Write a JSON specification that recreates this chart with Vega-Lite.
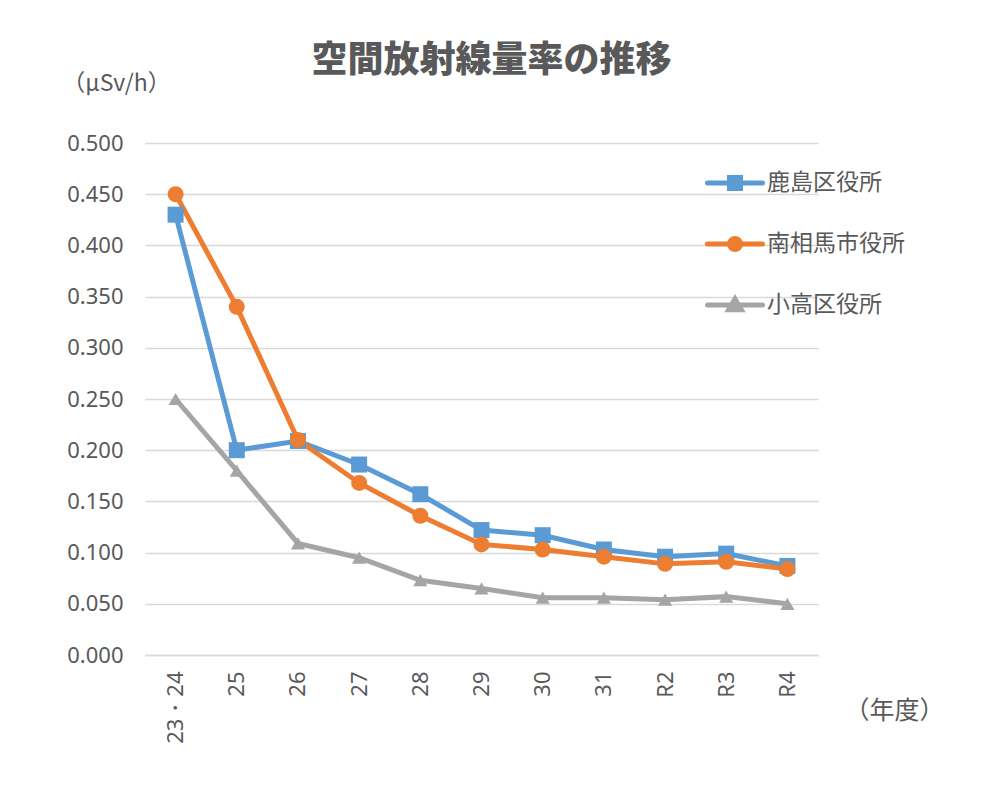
{
  "$schema": "https://vega.github.io/schema/vega-lite/v6.json",
  "autosize": {"type": "none"},
  "width": 673,
  "height": 512,
  "padding": {"left": 145, "top": 143, "right": 172, "bottom": 145},
  "background": "white",
  "config": {
    "font": "Noto Sans CJK JP",
    "view": {"stroke": null}
  },
  "title": {
    "text": "空間放射線量率の推移",
    "fontSize": 36,
    "fontWeight": 900,
    "color": "#595959",
    "anchor": "middle",
    "dx": 10,
    "offset": -8
  },
  "data": {
    "values": [
      {"year": "23・24", "site": "鹿島区役所", "value": 0.430},
      {"year": "25", "site": "鹿島区役所", "value": 0.200},
      {"year": "26", "site": "鹿島区役所", "value": 0.209},
      {"year": "27", "site": "鹿島区役所", "value": 0.186},
      {"year": "28", "site": "鹿島区役所", "value": 0.157},
      {"year": "29", "site": "鹿島区役所", "value": 0.122},
      {"year": "30", "site": "鹿島区役所", "value": 0.117},
      {"year": "31", "site": "鹿島区役所", "value": 0.103},
      {"year": "R2", "site": "鹿島区役所", "value": 0.096},
      {"year": "R3", "site": "鹿島区役所", "value": 0.099},
      {"year": "R4", "site": "鹿島区役所", "value": 0.087},
      {"year": "23・24", "site": "南相馬市役所", "value": 0.450},
      {"year": "25", "site": "南相馬市役所", "value": 0.340},
      {"year": "26", "site": "南相馬市役所", "value": 0.210},
      {"year": "27", "site": "南相馬市役所", "value": 0.168},
      {"year": "28", "site": "南相馬市役所", "value": 0.136},
      {"year": "29", "site": "南相馬市役所", "value": 0.108},
      {"year": "30", "site": "南相馬市役所", "value": 0.103},
      {"year": "31", "site": "南相馬市役所", "value": 0.096},
      {"year": "R2", "site": "南相馬市役所", "value": 0.089},
      {"year": "R3", "site": "南相馬市役所", "value": 0.091},
      {"year": "R4", "site": "南相馬市役所", "value": 0.084},
      {"year": "23・24", "site": "小高区役所", "value": 0.250},
      {"year": "25", "site": "小高区役所", "value": 0.180},
      {"year": "26", "site": "小高区役所", "value": 0.109},
      {"year": "27", "site": "小高区役所", "value": 0.095},
      {"year": "28", "site": "小高区役所", "value": 0.073},
      {"year": "29", "site": "小高区役所", "value": 0.065},
      {"year": "30", "site": "小高区役所", "value": 0.056},
      {"year": "31", "site": "小高区役所", "value": 0.056},
      {"year": "R2", "site": "小高区役所", "value": 0.054},
      {"year": "R3", "site": "小高区役所", "value": 0.057},
      {"year": "R4", "site": "小高区役所", "value": 0.050}
    ]
  },
  "encoding": {
    "x": {
      "field": "year",
      "type": "nominal",
      "sort": ["23・24", "25", "26", "27", "28", "29", "30", "31", "R2", "R3", "R4"],
      "scale": {"type": "point", "padding": 0.5},
      "axis": {
        "title": "（年度）",
        "titleFontSize": 25,
        "titleFontWeight": "normal",
        "titleColor": "#595959",
        "titleAngle": 0,
        "titleAlign": "center",
        "titleBaseline": "middle",
        "titleX": 749,
        "titleY": 55,
        "labelAngle": -90,
        "labelAlign": "right",
        "labelBaseline": "middle",
        "labelFont": "Noto Sans",
        "labelFontSize": 22,
        "labelColor": "#595959",
        "labelPadding": 16,
        "ticks": false,
        "domainColor": "#D9D9D9",
        "domainWidth": 1.5,
        "grid": false
      }
    },
    "y": {
      "field": "value",
      "type": "quantitative",
      "scale": {"domain": [0, 0.5]},
      "axis": {
        "values": [0, 0.05, 0.1, 0.15, 0.2, 0.25, 0.3, 0.35, 0.4, 0.45, 0.5],
        "format": ".3f",
        "title": "（μSv/h）",
        "titleFontSize": 23,
        "titleFontWeight": "normal",
        "titleColor": "#595959",
        "titleAngle": 0,
        "titleAlign": "center",
        "titleBaseline": "middle",
        "titleX": -29,
        "titleY": -60,
        "labelFont": "Noto Sans",
        "labelFontSize": 22,
        "labelColor": "#595959",
        "labelPadding": 22,
        "ticks": false,
        "domain": false,
        "grid": true,
        "gridColor": "#D9D9D9",
        "gridWidth": 1.5
      }
    },
    "color": {
      "field": "site",
      "type": "nominal",
      "scale": {
        "domain": ["鹿島区役所", "南相馬市役所", "小高区役所"],
        "range": ["#5B9BD5", "#ED7D31", "#A5A5A5"]
      },
      "legend": {
        "title": null,
        "orient": "none",
        "legendX": 560,
        "legendY": 10,
        "symbolSize": 3025,
        "symbolStrokeWidth": 5,
        "labelFontSize": 23,
        "labelColor": "#595959",
        "labelOffset": 2,
        "rowPadding": 15,
        "encode": {
          "symbols": {
            "update": {
              "shape": {"signal": "datum.value === '鹿島区役所' ? 'M-1,0H1M-0.2,-0.2H0.2V0.2H-0.2Z' : datum.value === '南相馬市役所' ? 'M-1,0H1M-0.2,0A0.2,0.2 0 1,0 0.2,0A0.2,0.2 0 1,0 -0.2,0Z' : 'M-1,0H1M0,-0.22L0.23,0.17H-0.23Z'"},
              "fill": {"signal": "scale('color', datum.value)"},
              "stroke": {"signal": "scale('color', datum.value)"},
              "strokeWidth": {"value": 5},
              "strokeCap": {"value": "round"}
            }
          }
        }
      }
    }
  },
  "layer": [
    {
      "mark": {"type": "line", "strokeWidth": 5}
    },
    {
      "transform": [{"filter": "datum.site === '鹿島区役所'"}],
      "mark": {"type": "point", "shape": "square", "filled": true, "opacity": 1, "size": 256}
    },
    {
      "transform": [{"filter": "datum.site === '南相馬市役所'"}],
      "mark": {"type": "point", "shape": "circle", "filled": true, "opacity": 1, "size": 256}
    },
    {
      "transform": [{"filter": "datum.site === '小高区役所'"}],
      "mark": {"type": "point", "shape": "triangle-up", "filled": true, "opacity": 1, "size": 200}
    }
  ]
}
